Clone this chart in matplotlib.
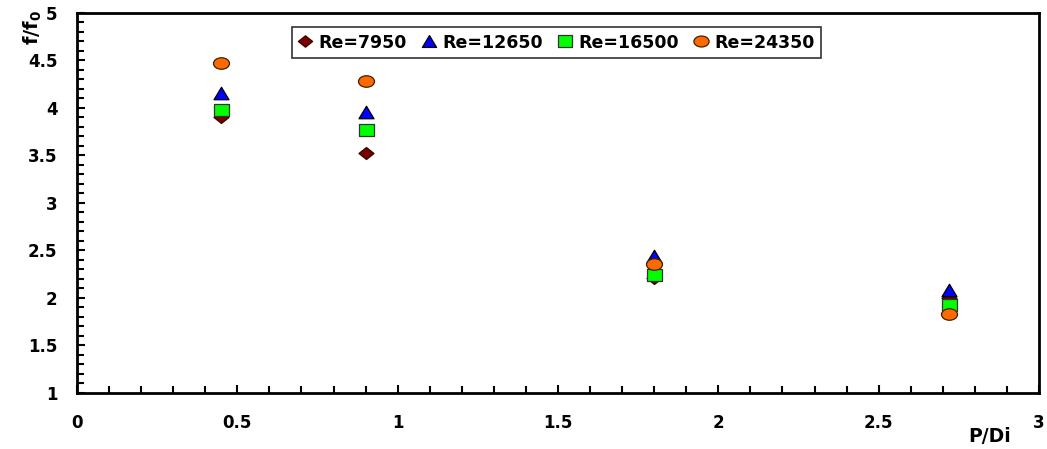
import numpy as np
import matplotlib
matplotlib.use("Agg")
import matplotlib.pyplot as plt
from matplotlib.path import Path
from matplotlib.ticker import MultipleLocator

plt.rcParams['font.family'] = ['DejaVu Sans']
plt.rcParams['font.weight'] = 'bold'
plt.rcParams['mathtext.fontset'] = 'dejavusans'

# Pitch ratio and friction factor ratio for each Reynolds number
p_di = [0.45, 0.9, 1.8, 2.72]
re_7950 = [3.90, 3.52, 2.21, 2.00]
re_12650 = [4.15, 3.95, 2.44, 2.08]
re_16500 = [3.97, 3.76, 2.24, 1.93]
re_24350 = [4.47, 4.28, 2.36, 1.83]
series_labels = ['Re=7950', 'Re=12650', 'Re=16500', 'Re=24350']


def closed(verts):
    verts = list(verts) + [verts[0]]
    codes = [Path.MOVETO] + [Path.LINETO] * (len(verts) - 2) + [Path.CLOSEPOLY]
    return Path(verts, codes)


# slightly flattened marker shapes
diamond = closed([(0, 0.8), (1, 0), (0, -0.8), (-1, 0)])
triangle = closed([(0, 0.833), (-1, -0.833), (1, -0.833)])
square = closed([(-1, -0.833), (1, -0.833), (1, 0.833), (-1, 0.833)])
circ = Path.unit_circle()
ellipse = Path(circ.vertices * np.array([1.0, 0.72]), circ.codes)

fig = plt.figure(figsize=(10.47, 4.49), dpi=100)
ax = fig.add_axes([77 / 1047, 1 - 393 / 449, 962 / 1047, 380.5 / 449])

styles = [
    (re_7950, diamond, '#7a0000', '#3a0000', 10.8),
    (re_12650, triangle, '#0000ff', '#000000', 10.8),
    (re_16500, square, '#00ff00', '#333333', 10.8),
    (re_24350, ellipse, '#ff6a00', '#402000', 11.5),
]
for (vals, mk, fc, ec, ms), lab in zip(styles, series_labels):
    ax.plot(p_di, vals, linestyle='none', marker=mk, markersize=ms,
            markerfacecolor=fc, markeredgecolor=ec, markeredgewidth=0.9,
            label=lab)

ax.set_xlim(0, 3)
ax.set_ylim(1, 5)
ax.xaxis.set_major_locator(MultipleLocator(0.5))
ax.xaxis.set_minor_locator(MultipleLocator(0.1))
ax.yaxis.set_major_locator(MultipleLocator(0.5))
ax.yaxis.set_minor_locator(MultipleLocator(0.1))
ax.xaxis.set_major_formatter(plt.FuncFormatter(lambda v, p: f'{v:g}'))
ax.yaxis.set_major_formatter(plt.FuncFormatter(lambda v, p: f'{v:g}'))

for s in ax.spines.values():
    s.set_linewidth(2.0)
ax.tick_params(which='both', direction='in', top=False, right=False,
               width=1.5, labelsize=12)
ax.tick_params(which='major', length=6)
ax.tick_params(which='minor', length=5)
ax.tick_params(axis='x', pad=15)
ax.tick_params(axis='y', pad=14)
for t in ax.get_xticklabels() + ax.get_yticklabels():
    t.set_fontweight('bold')

ax.set_xlabel('P/Di', fontsize=13.5, fontweight='bold', va='center')
ax.xaxis.set_label_coords(0.949, -0.115)
ax.set_ylabel(r'$\mathbf{f/f_0}$', fontsize=14, fontweight='bold', va='center')
ax.yaxis.set_label_coords(-0.046, 0.96)

leg = ax.legend(loc='upper left', bbox_to_anchor=((292 - 77) / 962, 1 - (27.5 - 12.5) / 380.5),
                borderaxespad=0.0,
                ncol=4, frameon=True, fancybox=False,
                handlelength=0.8, handletextpad=0.35, columnspacing=0.9,
                borderpad=0.35, markerscale=0.95, prop={'weight': 'bold', 'size': 12.5})
leg.get_frame().set_edgecolor('black')
leg.get_frame().set_linewidth(1.2)

fig.savefig('out.png', dpi=100)
